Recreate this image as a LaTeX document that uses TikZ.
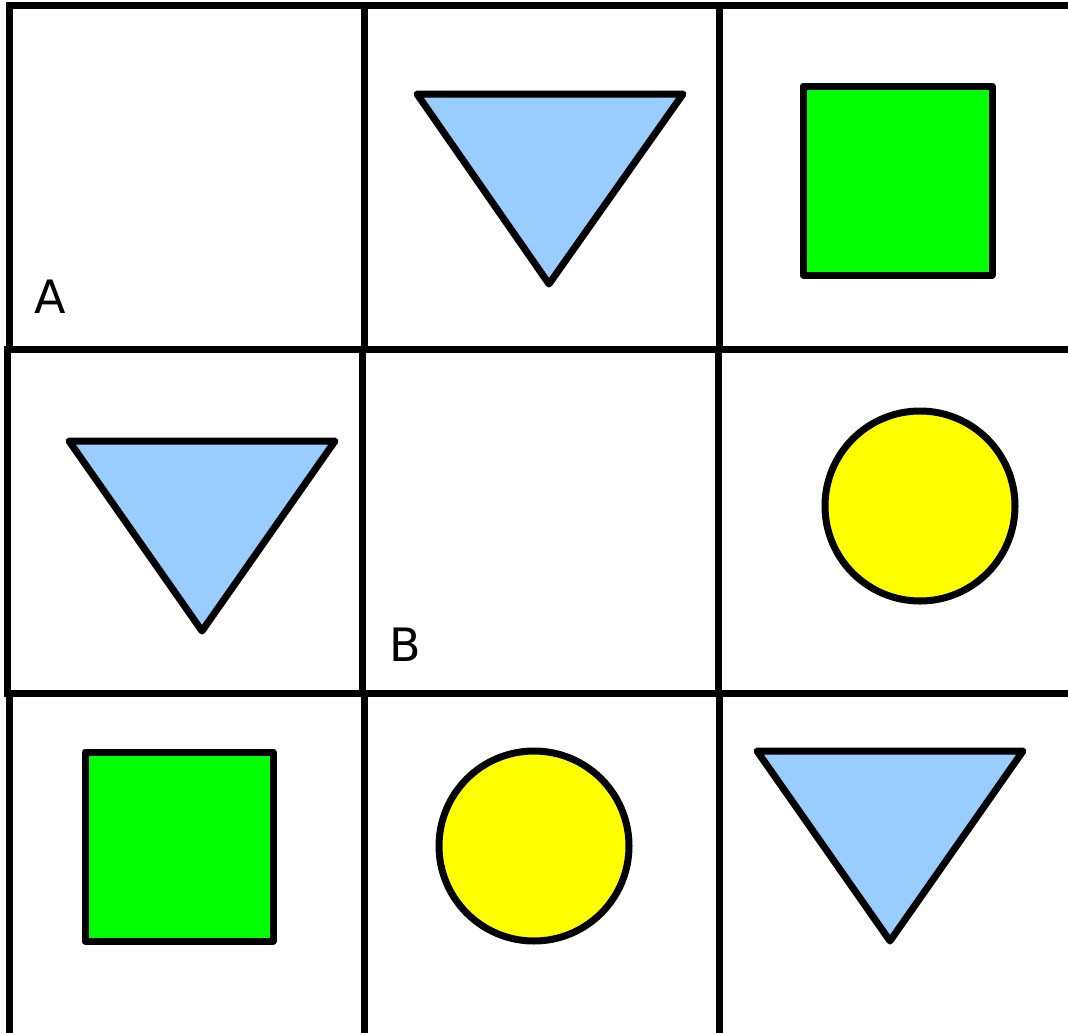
\documentclass[tikz,border=0pt]{standalone}
\usepackage{fontspec}
\setmainfont{DejaVu Sans}
\definecolor{tri}{HTML}{99CCFF}
\definecolor{sq}{HTML}{00FF00}
\definecolor{circ}{HTML}{FFFF00}
\begin{document}
\begin{tikzpicture}[x=1pt,y=-1pt,
  grid/.style={line width=7pt,black},
  shp/.style={line width=7pt,draw=black,line join=round},
  lbl/.style={anchor=base west,inner sep=0pt,font=\fontsize{46}{46}\selectfont}]
\useasboundingbox (0,0) rectangle (1068,1033);
% grid lines
\draw[grid] (6,5.5) -- (1068,5.5);
\draw[grid] (9.5,2) -- (9.5,352.5);
\draw[grid] (364.5,2) -- (364.5,352.5);
\draw[grid] (719.5,2) -- (719.5,352.5);
\draw[grid] (4,349) -- (1068,349);
\draw[grid] (7.5,345.5) -- (7.5,697);
\draw[grid] (362.5,345.5) -- (362.5,697);
\draw[grid] (718.5,345.5) -- (718.5,697);
\draw[grid] (4,693.5) -- (1068,693.5);
\draw[grid] (9.5,690) -- (9.5,1033);
\draw[grid] (364.5,690) -- (364.5,1033);
\draw[grid] (719.5,690) -- (719.5,1033);
% shapes
\draw[shp,fill=tri] (417,94) -- (683,94) -- (549,284) -- cycle;
\draw[shp,fill=sq] (803,86) rectangle (992,275);
\draw[shp,fill=tri] (69,441) -- (335,441) -- (202,631) -- cycle;
\draw[shp,fill=circ] (920,506) circle[radius=95];
\draw[shp,fill=sq] (85,752) rectangle (273,941);
\draw[shp,fill=circ] (534,846) circle[radius=95];
\draw[shp,fill=tri] (757,751) -- (1023,751) -- (890,941) -- cycle;
% labels
\node[lbl] (la) at (34.5,313) {A};
\node[lbl] (lb) at (389.5,661) {B};
\end{tikzpicture}
\end{document}
